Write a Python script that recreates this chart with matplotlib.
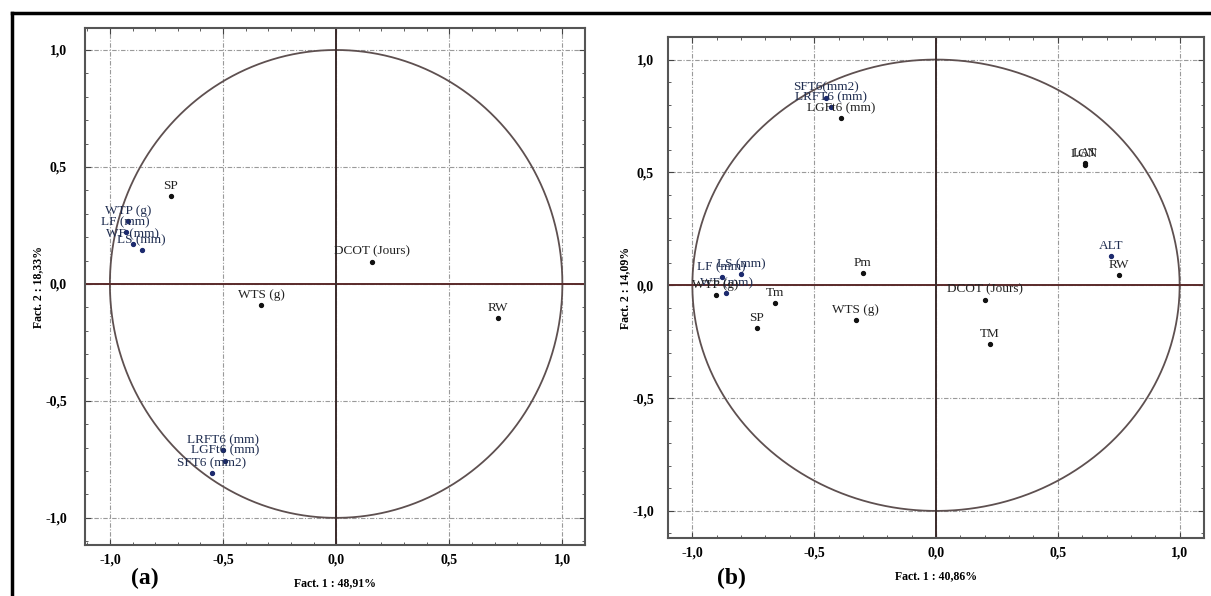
import numpy as np
import matplotlib.pyplot as plt
from matplotlib.lines import Line2D
from matplotlib.ticker import MultipleLocator, FuncFormatter

plt.rcParams['font.family'] = ['Liberation Serif', 'DejaVu Serif']

# panel (a) variables
a_names = ['SP', 'WTP (g)', 'LF (mm)', 'WF (mm)', 'LS (mm)', 'DCOT (Jours)', 'RW',
           'WTS (g)', 'LRFT6 (mm)', 'LGFt6 (mm)', 'SFT6 (mm2)']
a_x = [-0.73, -0.92, -0.93, -0.90, -0.86, 0.16, 0.715, -0.33, -0.50, -0.49, -0.55]
a_y = [0.375, 0.27, 0.22, 0.17, 0.145, 0.095, -0.145, -0.09, -0.71, -0.755, -0.81]
a_blue = [False, True, True, True, True, False, False, False, True, True, True]

# panel (b) variables
b_names = ['SFT6(mm2)', 'LRFT6 (mm)', 'LGFt6 (mm)', 'LAT', 'LGN', 'ALT', 'RW', 'Pm',
           'WTS (g)', 'Tm', 'SP', 'DCOT (Jours)', 'TM', 'LS (mm)', 'LF (mm)',
           'WF (mm)', 'WTP (g)']
b_x = [-0.45, -0.43, -0.39, 0.61, 0.61, 0.72, 0.75, -0.30, -0.33, -0.66, -0.735,
       0.20, 0.22, -0.80, -0.88, -0.86, -0.905]
b_y = [0.83, 0.79, 0.74, 0.54, 0.535, 0.13, 0.045, 0.055, -0.155, -0.08, -0.19,
       -0.065, -0.26, 0.05, 0.035, -0.035, -0.045]
b_blue = [True, True, False, False, False, True, False, False, False, False, False,
          False, False, True, True, True, False]

a_xlabel = 'Fact. 1 : 48,91%'
a_ylabel = 'Fact. 2 : 18,33%'
b_xlabel = 'Fact. 1 : 40,86%'
b_ylabel = 'Fact. 2 : 14,09%'

fig = plt.figure(figsize=(12.11, 5.96), dpi=100)
W, H = 1211, 596


def fx(px):
    return px / W


def fy(py):
    return 1 - py / H


def comma(v, pos):
    return ('%.1f' % v).replace('.', ',').replace('-0,0', '0,0')


def panel(rect, xlim, ylim, names, xs, ys, blue, xlabel, ylabel, ypad):
    ax = fig.add_axes(rect)
    ax.set_xlim(*xlim)
    ax.set_ylim(*ylim)
    t = np.linspace(0, 2 * np.pi, 400)
    ax.plot(np.cos(t), np.sin(t), color='#5e5050', lw=1.3, zorder=2)
    ax.axhline(0, color='#5a2a2a', lw=1.4, zorder=2)
    ax.axvline(0, color='#3a2a2a', lw=1.4, zorder=2)
    ax.xaxis.set_major_locator(MultipleLocator(0.5))
    ax.yaxis.set_major_locator(MultipleLocator(0.5))
    ax.xaxis.set_minor_locator(MultipleLocator(0.1))
    ax.yaxis.set_minor_locator(MultipleLocator(0.1))
    ax.xaxis.set_major_formatter(FuncFormatter(comma))
    ax.yaxis.set_major_formatter(FuncFormatter(comma))
    ax.grid(True, which='major', color='#9a9a9a', lw=0.8, ls=(0, (4, 1.5, 1, 1.5)))
    ax.tick_params(which='both', direction='in', top=True, right=True,
                   color='#444444', labelsize=10)
    ax.tick_params(axis='x', which='major', pad=6)
    ax.tick_params(axis='y', which='major', pad=ypad)
    ax.tick_params(which='major', length=4)
    ax.tick_params(which='minor', length=2.5)
    for lbl in ax.get_xticklabels() + ax.get_yticklabels():
        lbl.set_fontweight('bold')
    for s in ax.spines.values():
        s.set_color('#555555')
        s.set_linewidth(1.5)
    for n, x, y, b in zip(names, xs, ys, blue):
        c = '#1c2a6e' if b else '#111111'
        ax.plot(x, y, 'o', ms=2.8, color=c, zorder=4)
        ax.annotate(n, (x, y), xytext=(0, 3), textcoords='offset points',
                    ha='center', va='bottom', fontsize=9.5,
                    color='#1f2d50' if b else '#222222', zorder=5)
    ax.set_xlabel(xlabel, fontsize=8.5, fontweight='bold', labelpad=8)
    ax.set_ylabel(ylabel, fontsize=8.5, fontweight='bold', labelpad=1)
    return ax


ax1 = panel([fx(85), fy(545), fx(585 - 85), (545 - 28) / H], (-1.11, 1.10), (-1.116, 1.094),
            a_names, a_x, a_y, a_blue, a_xlabel, a_ylabel, 13)
ax2 = panel([fx(668), fy(538), fx(1204 - 668), (538 - 37) / H], (-1.10, 1.10), (-1.12, 1.10),
            b_names, b_x, b_y, b_blue, b_xlabel, b_ylabel, 10)

fig.text(fx(145), fy(578), '(a)', fontsize=17, fontweight='bold', ha='center', va='center')
fig.text(fx(731), fy(578), '(b)', fontsize=17, fontweight='bold', ha='center', va='center')

# outer frame (top and left edges visible)
fig.add_artist(Line2D([fx(12), 1], [fy(13), fy(13)], transform=fig.transFigure,
                      color='black', lw=2.5))
fig.add_artist(Line2D([fx(12), fx(12)], [0, fy(13)], transform=fig.transFigure,
                      color='black', lw=2.5))

fig.savefig('out.png', dpi=100)
